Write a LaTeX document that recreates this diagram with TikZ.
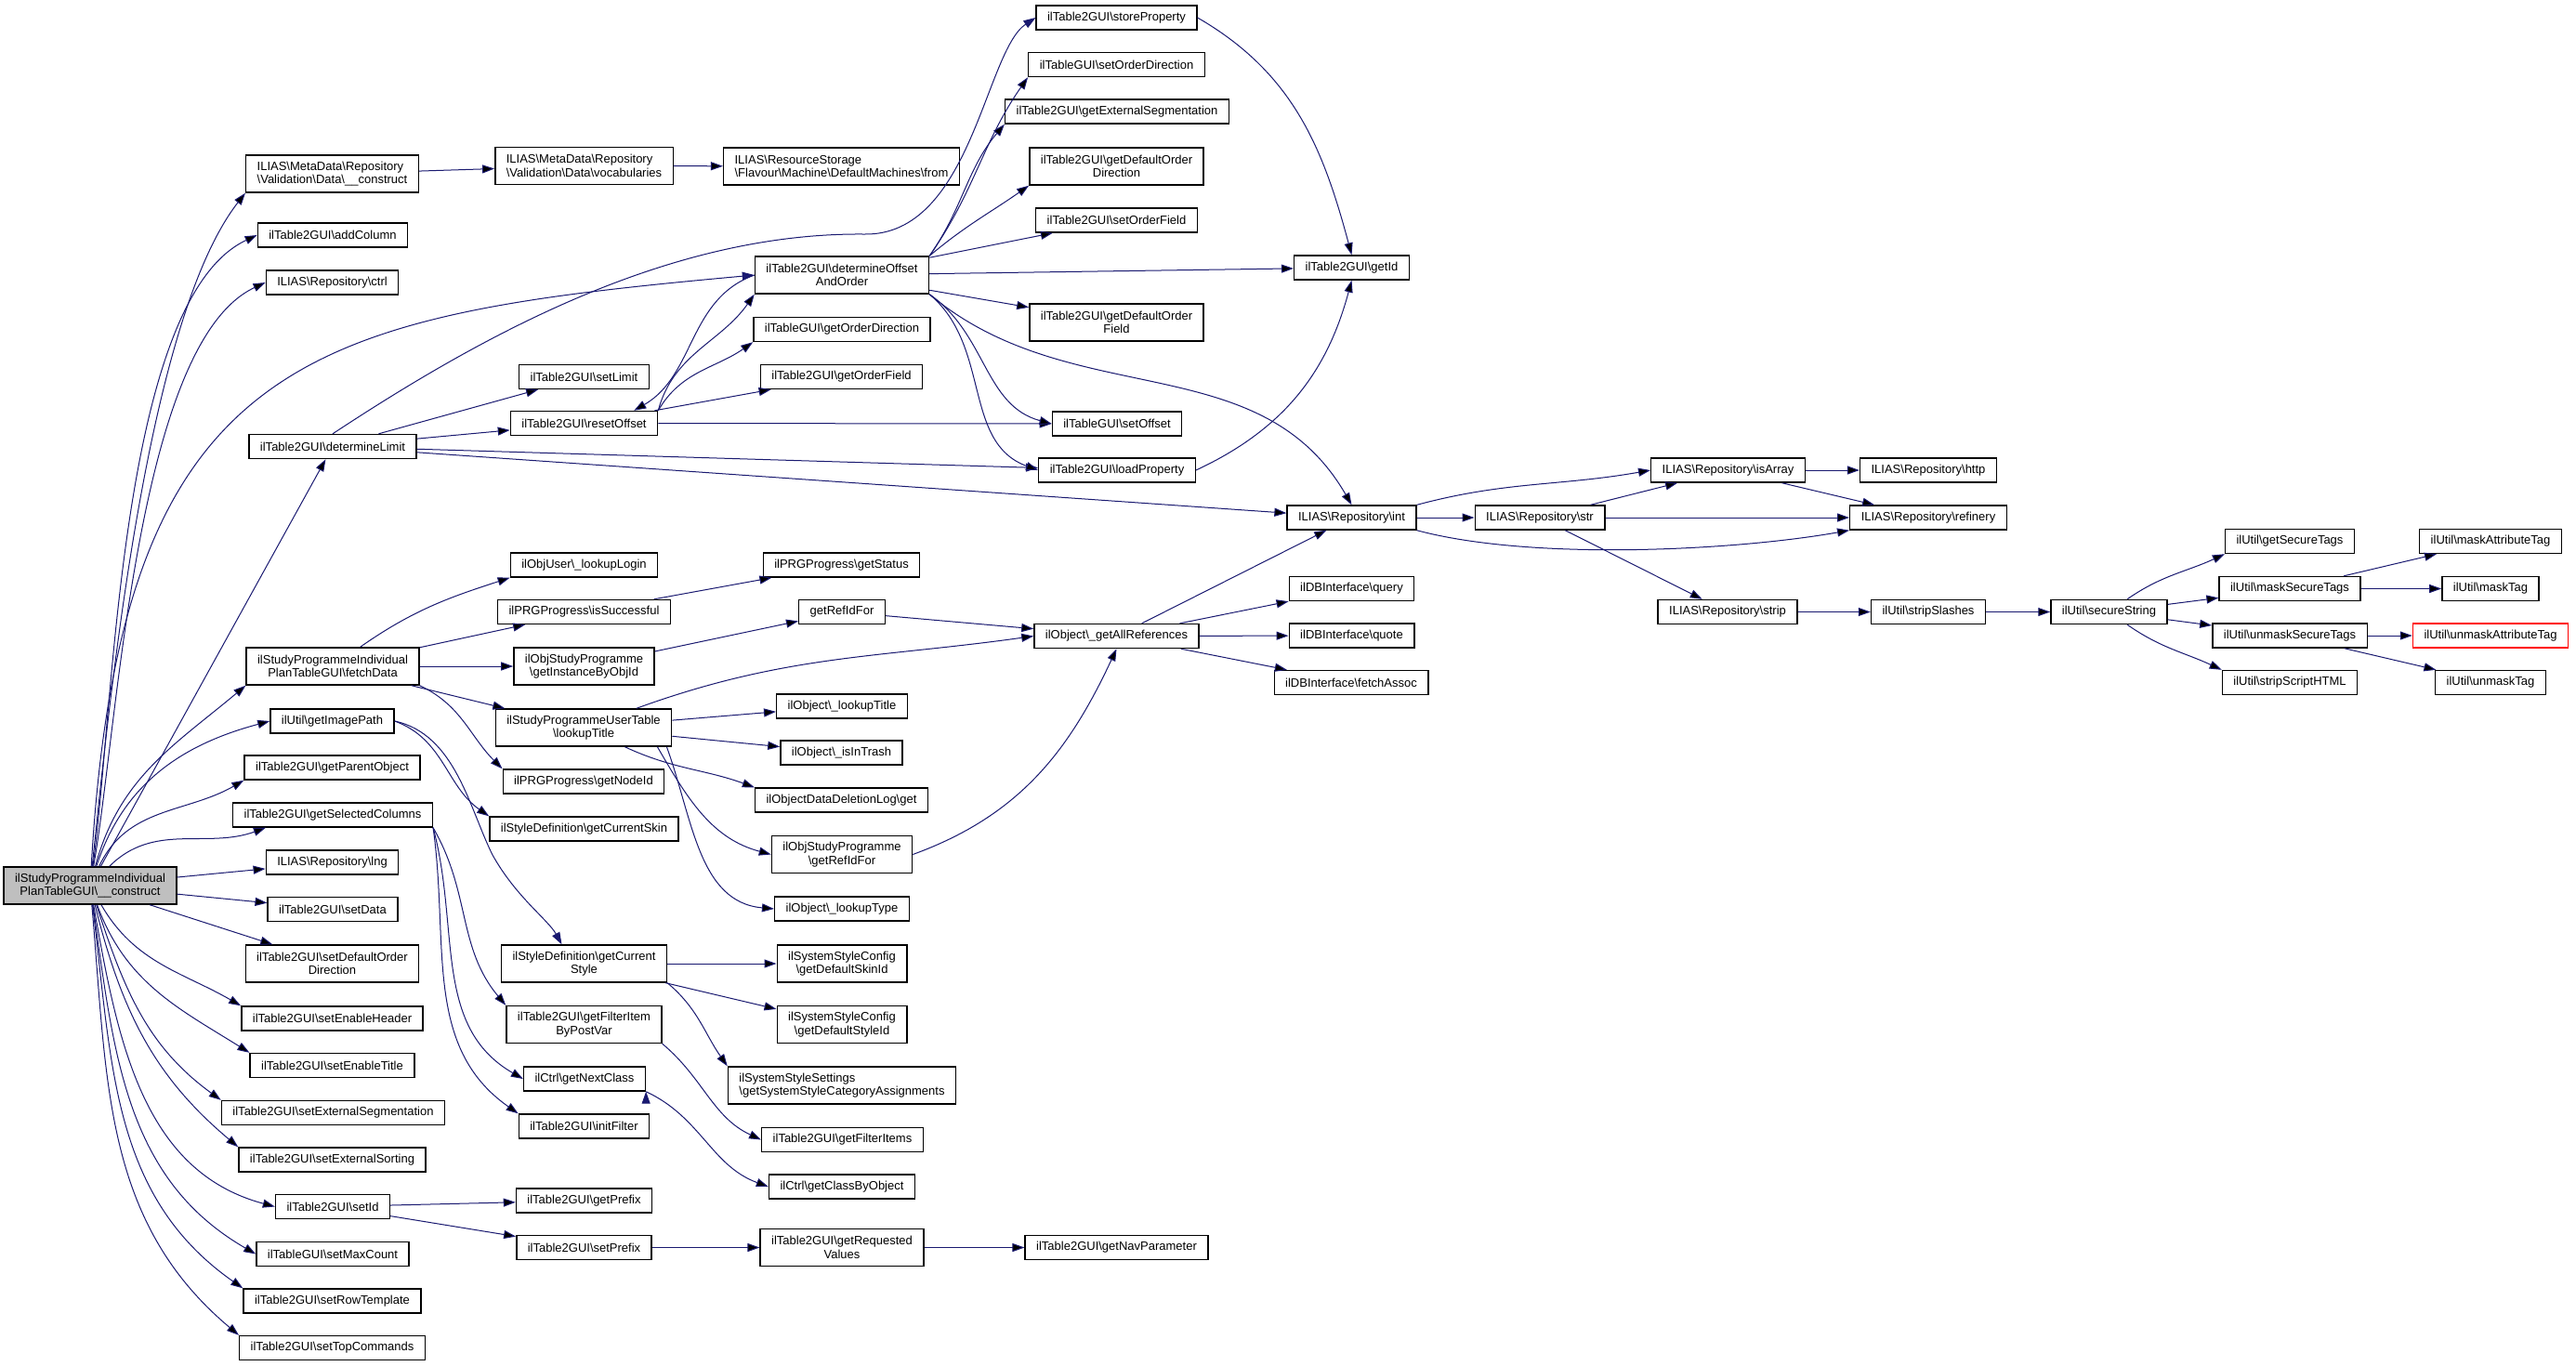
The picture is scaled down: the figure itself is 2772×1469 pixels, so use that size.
\documentclass[tikz,border=0pt]{standalone}
\usepackage{fontspec}
\setmainfont{Liberation Sans}
\usepackage{tikz}
\usetikzlibrary{arrows.meta}
\definecolor{callblue}{HTML}{191970}
\definecolor{rootgray}{HTML}{BFBFBF}
\newcommand{\bksl}{\textbackslash}

\begin{document}
\begin{tikzpicture}[x=0.5pt, y=-0.5pt,
    fn/.style={draw=black, line width=0.7pt, fill=white, inner xsep=6pt, inner ysep=1pt,
        minimum height=13pt, align=center, font=\fontsize{6.5pt}{7.2pt}\selectfont},
    fn2/.style={fn, minimum height=20pt},
    call/.style={draw=callblue, line width=0.5pt, -{Triangle[length=6.5pt, width=4.5pt]}}]
    \useasboundingbox (0, 0) rectangle (2772, 1469);
    \node[fn2, fill=rootgray] (main) at (97, 953) {ilStudyProgrammeIndividual\\PlanTableGUI\bksl{}\_\_construct};
    \node[fn2, align=left] (mdcons) at (357.5, 187) {ILIAS\bksl{}MetaData\bksl{}Repository\\\bksl{}Validation\bksl{}Data\bksl{}\_\_construct};
    \node[fn2, align=left] (mdvocab) at (628.5, 178.5) {ILIAS\bksl{}MetaData\bksl{}Repository\\\bksl{}Validation\bksl{}Data\bksl{}vocabularies};
    \node[fn2, align=left] (rsfrom) at (905.5, 179) {ILIAS\bksl{}ResourceStorage\\\bksl{}Flavour\bksl{}Machine\bksl{}DefaultMachines\bksl{}from};
    \node[fn] (addcol) at (358, 253) {ilTable2GUI\bksl{}addColumn};
    \node[fn] (ctrl) at (357.5, 304) {ILIAS\bksl{}Repository\bksl{}ctrl};
    \node[fn] (detlimit) at (358, 480.5) {ilTable2GUI\bksl{}determineLimit};
    \node[fn] (setlimit) at (628.5, 405.5) {ilTable2GUI\bksl{}setLimit};
    \node[fn] (resetoff) at (628.5, 455.5) {ilTable2GUI\bksl{}resetOffset};
    \node[fn2] (detoff) at (906, 296) {ilTable2GUI\bksl{}determineOffset\\AndOrder};
    \node[fn] (getorddir) at (906, 354.5) {ilTableGUI\bksl{}getOrderDirection};
    \node[fn] (getordfld) at (905.5, 405.5) {ilTable2GUI\bksl{}getOrderField};
    \node[fn] (storeprop) at (1201.5, 19) {ilTable2GUI\bksl{}storeProperty};
    \node[fn] (setorddir) at (1201.5, 69.5) {ilTableGUI\bksl{}setOrderDirection};
    \node[fn] (getextseg) at (1202, 120) {ilTable2GUI\bksl{}getExternalSegmentation};
    \node[fn2] (getdefdir) at (1201.5, 179) {ilTable2GUI\bksl{}getDefaultOrder\\Direction};
    \node[fn] (setordfld) at (1201.5, 237) {ilTable2GUI\bksl{}setOrderField};
    \node[fn2] (getdeffld) at (1201.5, 347) {ilTable2GUI\bksl{}getDefaultOrder\\Field};
    \node[fn] (setoff) at (1202, 456) {ilTableGUI\bksl{}setOffset};
    \node[fn] (loadprop) at (1202, 506) {ilTable2GUI\bksl{}loadProperty};
    \node[fn] (getid) at (1454.5, 288) {ilTable2GUI\bksl{}getId};
    \node[fn] (repint) at (1454.5, 557) {ILIAS\bksl{}Repository\bksl{}int};
    \node[fn] (repstr) at (1657, 557) {ILIAS\bksl{}Repository\bksl{}str};
    \node[fn] (isarray) at (1859.5, 506) {ILIAS\bksl{}Repository\bksl{}isArray};
    \node[fn] (http) at (2075, 506) {ILIAS\bksl{}Repository\bksl{}http};
    \node[fn] (refinery) at (2075, 557) {ILIAS\bksl{}Repository\bksl{}refinery};
    \node[fn] (strip) at (1859, 658.5) {ILIAS\bksl{}Repository\bksl{}strip};
    \node[fn] (stripsl) at (2075, 658.5) {ilUtil\bksl{}stripSlashes};
    \node[fn] (securestr) at (2269.5, 658.5) {ilUtil\bksl{}secureString};
    \node[fn] (getsectags) at (2464, 582.5) {ilUtil\bksl{}getSecureTags};
    \node[fn] (masksec) at (2464, 633.5) {ilUtil\bksl{}maskSecureTags};
    \node[fn] (unmasksec) at (2464, 684) {ilUtil\bksl{}unmaskSecureTags};
    \node[fn] (stripscript) at (2464, 734.5) {ilUtil\bksl{}stripScriptHTML};
    \node[fn] (maskattr) at (2680, 582.5) {ilUtil\bksl{}maskAttributeTag};
    \node[fn] (masktag) at (2680, 633.5) {ilUtil\bksl{}maskTag};
    \node[fn, draw=red] (unmaskattr) at (2680, 684) {ilUtil\bksl{}unmaskAttributeTag};
    \node[fn] (unmasktag) at (2680, 734.5) {ilUtil\bksl{}unmaskTag};
    \node[fn] (dbquery) at (1454.5, 633.5) {ilDBInterface\bksl{}query};
    \node[fn] (dbquote) at (1454.5, 684) {ilDBInterface\bksl{}quote};
    \node[fn] (dbfetch) at (1454, 734.5) {ilDBInterface\bksl{}fetchAssoc};
    \node[fn] (allrefs) at (1201.5, 684.5) {ilObject\bksl{}\_getAllReferences};
    \node[fn] (getstatus) at (905.5, 608) {ilPRGProgress\bksl{}getStatus};
    \node[fn] (getrefid) at (906, 658.5) {getRefIdFor};
    \node[fn] (lookuptitle) at (906, 760) {ilObject\bksl{}\_lookupTitle};
    \node[fn] (intrash) at (905.5, 810) {ilObject\bksl{}\_isInTrash};
    \node[fn] (dellog) at (905.5, 861) {ilObjectDataDeletionLog\bksl{}get};
    \node[fn2] (prgrefid) at (906, 919.5) {ilObjStudyProgramme\\\bksl{}getRefIdFor};
    \node[fn] (lookuptype) at (906, 978) {ilObject\bksl{}\_lookupType};
    \node[fn] (lookuplogin) at (628.5, 608) {ilObjUser\bksl{}\_lookupLogin};
    \node[fn] (success) at (628.5, 658.5) {ilPRGProgress\bksl{}isSuccessful};
    \node[fn2] (fetchdata) at (358, 717) {ilStudyProgrammeIndividual\\PlanTableGUI\bksl{}fetchData};
    \node[fn2] (instbyobj) at (628.5, 717) {ilObjStudyProgramme\\\bksl{}getInstanceByObjId};
    \node[fn] (imagepath) at (357.5, 776) {ilUtil\bksl{}getImagePath};
    \node[fn2] (usertitle) at (628, 783) {ilStudyProgrammeUserTable\\\bksl{}lookupTitle};
    \node[fn] (parentobj) at (357.5, 826) {ilTable2GUI\bksl{}getParentObject};
    \node[fn] (nodeid) at (628, 841) {ilPRGProgress\bksl{}getNodeId};
    \node[fn] (selcols) at (358, 877) {ilTable2GUI\bksl{}getSelectedColumns};
    \node[fn] (curskin) at (628.5, 892) {ilStyleDefinition\bksl{}getCurrentSkin};
    \node[fn] (lng) at (357.5, 928) {ILIAS\bksl{}Repository\bksl{}lng};
    \node[fn] (setdata) at (358, 978.5) {ilTable2GUI\bksl{}setData};
    \node[fn2] (setdefdir) at (357.5, 1037) {ilTable2GUI\bksl{}setDefaultOrder\\Direction};
    \node[fn] (enheader) at (357.5, 1096) {ilTable2GUI\bksl{}setEnableHeader};
    \node[fn] (entitle) at (357.5, 1146.5) {ilTable2GUI\bksl{}setEnableTitle};
    \node[fn] (setextseg) at (358.5, 1197.5) {ilTable2GUI\bksl{}setExternalSegmentation};
    \node[fn] (setextsort) at (357.5, 1248) {ilTable2GUI\bksl{}setExternalSorting};
    \node[fn] (setid) at (358, 1298.5) {ilTable2GUI\bksl{}setId};
    \node[fn] (maxcount) at (358, 1349.5) {ilTableGUI\bksl{}setMaxCount};
    \node[fn] (rowtpl) at (357.5, 1400) {ilTable2GUI\bksl{}setRowTemplate};
    \node[fn] (topcmds) at (357.5, 1450.5) {ilTable2GUI\bksl{}setTopCommands};
    \node[fn2] (curstyle) at (628.5, 1037) {ilStyleDefinition\bksl{}getCurrent\\Style};
    \node[fn2] (filteritem) at (628.5, 1102.5) {ilTable2GUI\bksl{}getFilterItem\\ByPostVar};
    \node[fn] (nextclass) at (629, 1161) {ilCtrl\bksl{}getNextClass};
    \node[fn] (initfilter) at (628.5, 1212) {ilTable2GUI\bksl{}initFilter};
    \node[fn] (getprefix) at (628.5, 1292) {ilTable2GUI\bksl{}getPrefix};
    \node[fn] (setprefix) at (628.5, 1342.5) {ilTable2GUI\bksl{}setPrefix};
    \node[fn2] (skinid) at (906, 1037) {ilSystemStyleConfig\\\bksl{}getDefaultSkinId};
    \node[fn2] (styleid) at (906, 1102.5) {ilSystemStyleConfig\\\bksl{}getDefaultStyleId};
    \node[fn2, align=left] (catassign) at (906, 1168) {ilSystemStyleSettings\\\bksl{}getSystemStyleCategoryAssignments};
    \node[fn] (filteritems) at (906.5, 1226.5) {ilTable2GUI\bksl{}getFilterItems};
    \node[fn] (classbyobj) at (906, 1277) {ilCtrl\bksl{}getClassByObject};
    \node[fn2] (reqvalues) at (906, 1342.5) {ilTable2GUI\bksl{}getRequested\\Values};
    \node[fn] (navparam) at (1201.5, 1342.5) {ilTable2GUI\bksl{}getNavParameter};
    \draw[call]
    (main) edge[out=84, in=232, looseness=0.6] (mdcons.south west)
    (main) edge[out=82, in=205, looseness=0.6] (addcol.west)
    (main) edge[out=80, in=205, looseness=0.6] (ctrl.west)
    (main) edge (detlimit)
    (main) edge[out=75, in=220] (fetchdata.south west)
    (main) edge[out=72, in=195] (imagepath.west)
    (main) edge[out=65, in=210] (parentobj.south west)
    (main) edge[out=45, in=200] ([xshift=18pt]selcols.south west)
    (main) edge (lng)
    (main) edge (setdata)
    (main) edge (setdefdir)
    (main) edge[out=-60, in=150] (enheader.north west)
    (main) edge[out=-70, in=148] (entitle.north west)
    (main) edge[out=-72, in=144] (setextseg.north west)
    (main) edge[out=-76, in=140] (setextsort.north west)
    (main) edge[out=-80, in=165] (setid.west)
    (main) edge[out=-82, in=150] (maxcount.west)
    (main) edge[out=-83, in=145] (rowtpl.north west)
    (main) edge[out=-85, in=140] (topcmds.north west)
    (mdcons) edge (mdvocab)
    (mdvocab) edge (rsfrom)
    (detlimit) edge (setlimit)
    (detlimit) edge (resetoff)
    (detlimit) edge (loadprop)
    (detlimit) edge (repint)
    (resetoff.north east) edge[out=75, in=235] (detoff.south west)
    (resetoff.north east) edge[out=60, in=215] (getorddir.south west)
    (resetoff) edge (getordfld)
    (resetoff) edge (setoff)
    (detoff.west) edge[out=200, in=30] ([xshift=-13pt]resetoff.north east)
    (detoff.north east) edge[out=55, in=235] (setorddir.south west)
    (detoff.north east) edge[out=55, in=230] (getextseg.south west)
    (detoff.north east) edge[out=40, in=215] (getdefdir.south west)
    (detoff) edge (setordfld)
    (detoff) edge (getid)
    (detoff) edge (getdeffld)
    (detoff.south east) edge[out=-35, in=165] (setoff.west)
    (detoff.south east) edge[out=-40, in=160] (loadprop.west)
    (detoff.south east) edge[out=-40, in=120] (repint.north)
    (storeprop.east) edge[out=-30, in=105] (getid.north)
    (loadprop.east) edge[out=25, in=255] (getid.south)
    (repint.north east) edge[out=15, in=190] (isarray.west)
    (repint) edge (repstr)
    (repint.south east) edge[out=-15, in=190, looseness=0.7] (refinery.south west)
    (repstr) edge (isarray)
    (repstr) edge (refinery)
    (repstr) edge (strip)
    (isarray) edge (http)
    (isarray) edge (refinery)
    (strip) edge (stripsl)
    (stripsl) edge (securestr)
    (securestr) edge[out=35, in=205] (getsectags.south west)
    (securestr) edge (masksec)
    (securestr) edge (unmasksec)
    (securestr) edge[out=-35, in=155] (stripscript.north west)
    (masksec) edge (maskattr)
    (masksec) edge (masktag)
    (unmasksec) edge (unmaskattr)
    (unmasksec) edge (unmasktag)
    (fetchdata) edge[out=35, in=198] (lookuplogin.south west)
    (fetchdata) edge (success)
    (fetchdata) edge (instbyobj)
    (fetchdata) edge (usertitle)
    (fetchdata.south east) edge[out=-25, in=135] (nodeid.north west)
    (success) edge (getstatus)
    (instbyobj) edge (getrefid)
    (getrefid) edge (allrefs)
    (usertitle) edge[out=20, in=188] (allrefs.west)
    (usertitle) edge (lookuptitle)
    (usertitle) edge (intrash)
    (usertitle) edge[out=-25, in=160] (dellog.north west)
    ([xshift=-8pt]usertitle.south east) edge[out=-60, in=165] (prgrefid.west)
    ([xshift=-3pt]usertitle.south east) edge[out=-70, in=175] (lookuptype.west)
    (prgrefid.east) edge[out=20, in=245] (allrefs.south)
    (allrefs) edge (repint)
    (allrefs) edge (dbquery)
    (allrefs) edge (dbquote)
    (allrefs) edge (dbfetch)
    (imagepath.east) edge[out=-20, in=145] (curskin.north west)
    (selcols.south east) edge[out=-60, in=130] (filteritem.north west)
    (selcols.south east) edge[out=-75, in=150] (nextclass.west)
    (selcols.south east) edge[out=-82, in=145] (initfilter.north west)
    (curstyle) edge (skinid)
    (curstyle) edge (styleid)
    (curstyle.south east) edge[out=-40, in=125] (catassign.north west)
    (filteritem.south east) edge[out=-40, in=155] (filteritems.west)
    (nextclass.south east) edge[out=-25, in=160] (classbyobj.west)
    (setid) edge (getprefix)
    (setid) edge (setprefix)
    (setprefix) edge (reqvalues)
    (reqvalues) edge (navparam);
    \draw[call] (main) .. controls (130, 380) and (330, 340) .. (detoff.west);
    \draw[call] (detlimit.north) .. controls (520, 360) and (720, 250) .. (930, 252)
        .. controls (1045, 254) and (1060, 55) .. (storeprop.west);
    \draw[call] (imagepath.east) .. controls (490, 790) and (505, 870) .. (530, 920)
        .. controls (555, 965) and (590, 990) .. ([xshift=-12pt]curstyle.north);
\end{tikzpicture}
\end{document}
